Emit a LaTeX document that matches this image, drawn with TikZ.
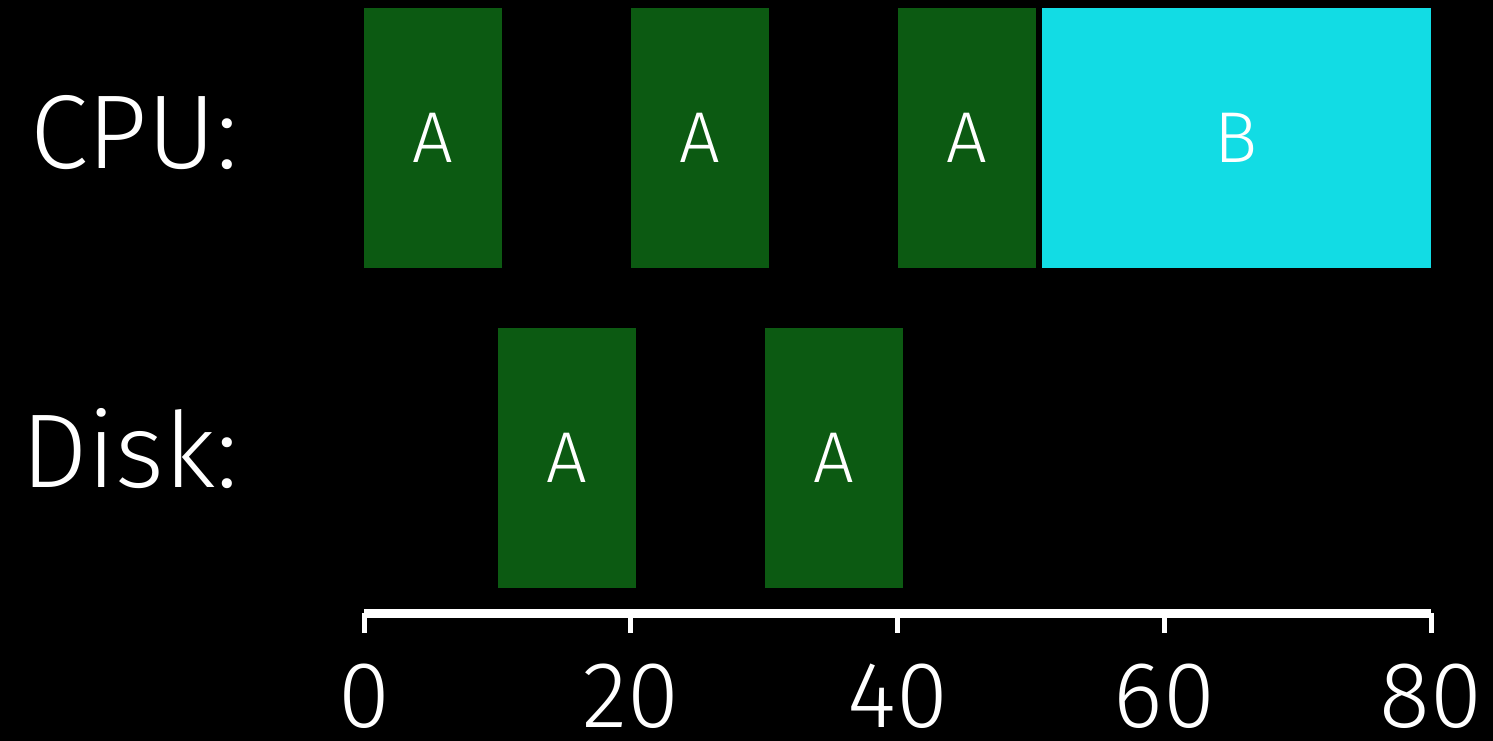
\documentclass[tikz,border=0pt]{standalone}
\usepackage{fontspec}
\setmainfont{Fira Sans Light}
\usetikzlibrary{positioning}
\definecolor{jobA}{RGB}{12,90,18}
\definecolor{jobB}{RGB}{18,220,228}
\tikzset{
  job/.style={fill=#1,text=white,minimum width=138pt,minimum height=260pt,
    inner sep=0pt,font=\fontsize{72}{72}\selectfont},
  job/.default=jobA,
  rowlabel/.style={text=white,anchor=base east,inner sep=0pt,
    font=\fontsize{105}{105}\selectfont},
  ticklabel/.style={text=white,anchor=base,inner sep=0pt,text depth=0pt,
    font=\fontsize{94}{94}\selectfont},
  axis/.style={white,line width=9pt},
  tickmark/.style={white,line width=5pt},
}

\begin{document}
\begin{tikzpicture}[x=1pt,y=-1pt]
  \fill[black] (0,0) rectangle (1493,741);
  \useasboundingbox (0,0) rectangle (1493,741);
  % row labels
  \node[rowlabel] (cpu) at (238,168) {CPU:};
  \node[rowlabel] (disk) at (238,487) {Disk:};
  % CPU jobs
  \node[job] (c1) at (433,138) {A};
  \node[job] (c2) at (700,138) {A};
  \node[job] (c3) at (967,138) {A};
  \node[job=jobB,minimum width=389pt] (c4) at (1236.5,138) {B};
  % disk jobs
  \node[job] (d1) at (567,458) {A};
  \node[job] (d2) at (834,458) {A};
  % time axis
  \foreach \t in {0,20,...,80} {
    \pgfmathsetmacro{\x}{364+\t*13.3375}
    \coordinate (t\t) at (\x,613);
    \draw[tickmark] (t\t) -- ++(0,20);
    \node[ticklabel] (l\t) at (\x,727) {\t};
  }
  \draw[axis] (t0) -- (t80);
\end{tikzpicture}
\end{document}
